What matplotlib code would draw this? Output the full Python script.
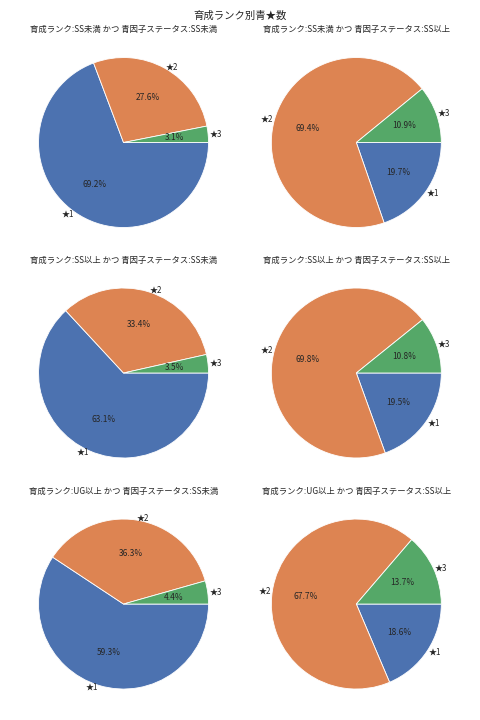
import matplotlib
matplotlib.use("Agg")
import matplotlib.pyplot as plt
import seaborn as sns

sns.set_theme()
plt.rcParams['font.family'] = ['Noto Sans CJK JP', 'DejaVu Sans']

labels = ['★1', '★2', '★3']
titles = [
    '育成ランク:SS未満 かつ 青因子ステータス:SS未満',
    '育成ランク:SS未満 かつ 青因子ステータス:SS以上',
    '育成ランク:SS以上 かつ 青因子ステータス:SS未満',
    '育成ランク:SS以上 かつ 青因子ステータス:SS以上',
    '育成ランク:UG以上 かつ 青因子ステータス:SS未満',
    '育成ランク:UG以上 かつ 青因子ステータス:SS以上',
]
ss_lt_ss_lt = [69.2, 27.6, 3.1]
ss_lt_ss_ge = [19.7, 69.4, 10.9]
ss_ge_ss_lt = [63.1, 33.4, 3.5]
ss_ge_ss_ge = [19.5, 69.8, 10.8]
ug_ge_ss_lt = [59.3, 36.3, 4.4]
ug_ge_ss_ge = [18.6, 67.7, 13.7]
series = [ss_lt_ss_lt, ss_lt_ss_ge, ss_ge_ss_lt, ss_ge_ss_ge, ug_ge_ss_lt, ug_ge_ss_ge]

colors = sns.color_palette('deep')[:3]

fig = plt.figure(figsize=(8, 12), dpi=60)
lefts = [0.036, 0.521]
bottoms = [0.6545, 0.3344, 0.0135]
w, h = 0.4427, 0.2951

def make_autopct(vals):
    it = iter(vals)
    return lambda pct: '%.1f%%' % next(it)

for i, (vals, t) in enumerate(zip(series, titles)):
    ax = fig.add_axes([lefts[i % 2], bottoms[i // 2], w, h])
    wedges, texts, autotexts = ax.pie(vals, labels=labels, autopct=make_autopct(vals),
                                      counterclock=False, startangle=0, colors=colors,
                                      labeldistance=1.02, textprops={'fontsize': 10.0})
    for tx in texts:
        tx.set_fontsize(9.6)
    ax.set_title(t, fontsize=10.0, pad=5)
fig.suptitle('育成ランク別青★数', fontsize=12.4, y=0.985)
fig.savefig('out.png')
